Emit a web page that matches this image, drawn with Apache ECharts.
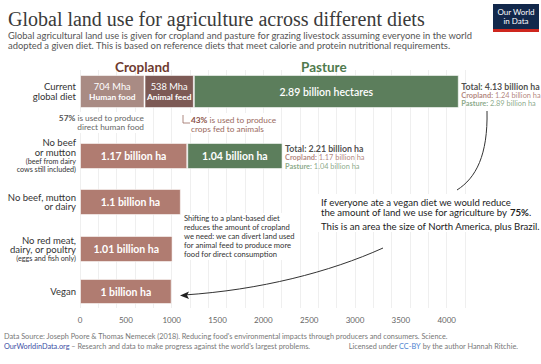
<!DOCTYPE html>
<html><head><meta charset="utf-8">
<script src="https://cdn.jsdelivr.net/npm/echarts@6/dist/echarts.min.js"></script>
<style>html,body{margin:0;padding:0;background:#fff}#c{width:541px;height:364px}</style>
</head><body><div id="c"></div>
<script>
// ---- data ----
const diets = ['Current\nglobal diet', 'No beef\nor mutton', 'No beef, mutton\nor dairy', 'No red meat,\ndairy, or poultry', 'Vegan'];
const dietNotes = ['', '(beef from dairy\ncows still included)', '', '(eggs and fish only)', ''];
const currentCropSplitNames = ['Human food', 'Animal feed'];
const currentCropSplit = [704, 538];              // Mha, current diet cropland split
const cropland = [1242, 1170, 1100, 1010, 1000];  // Mha
const pasture = [2890, 1040, 0, 0, 0];            // Mha
const xMax = 4200;
const tickStep = 500;
const gridStep = 200;

// ---- layout ----
const rowTops = [75, 143, 189, 236, 279];
const rowHeights = [33, 26, 26, 26, 25];
const L = 80, R = 76;
const cropColors = ['#a98b84', '#7d5a55'];
const cropColor = '#b07c71';
const pastureColor = '#5c7e5c';
const font = 'Lato, "Open Sans", sans-serif';
const edge = {borderColor: 'rgba(255,255,255,0.55)', borderWidth: 1};

const bil = v => (v / 1000) + ' billion ha';
const fix2 = v => (v / 1000).toFixed(2);

const grids = [{left: L, right: R, top: 70, bottom: 56}];
const xAxes = [
  {gridIndex: 0, type: 'value', min: 0, max: xMax, interval: gridStep, position: 'bottom',
   axisLabel: {show: false}, axisLine: {show: false}, axisTick: {show: false},
   splitLine: {show: true, lineStyle: {color: '#efefef', width: 1}}},
  {gridIndex: 0, type: 'value', min: 0, max: xMax, interval: tickStep, position: 'bottom',
   axisLine: {show: false}, axisTick: {show: false}, splitLine: {show: false},
   axisLabel: {show: true, color: '#666', fontSize: 8, fontFamily: font, margin: 8,
     formatter: v => (v % tickStep === 0 ? String(v) : '')}}
];
const yAxes = [{gridIndex: 0, type: 'value', show: false}];
const series = [];

diets.forEach((d, i) => {
  const g = i + 1;
  grids.push({left: L, right: R, top: rowTops[i], height: rowHeights[i]});
  xAxes.push({gridIndex: g, type: 'value', min: 0, max: xMax, show: false});
  yAxes.push({gridIndex: g, type: 'category', data: [d],
    axisLine: {show: false}, axisTick: {show: false}, splitLine: {show: false},
    axisLabel: {margin: 4, align: 'right',
      formatter: v => v.split('\n').map(l => `{m|${l}}`).join('\n') +
        (dietNotes[i] ? '\n' + dietNotes[i].split('\n').map(l => `{s|${l}}`).join('\n') : ''),
      rich: {m: {fontSize: 9.5, lineHeight: 9.5, color: '#333', fontFamily: font, align: 'right'},
             s: {fontSize: 7.2, lineHeight: 8.3, color: '#333', fontFamily: font, align: 'right'}}}});
  const xi = xAxes.length - 1, yi = yAxes.length - 1;
  const common = {type: 'bar', xAxisIndex: xi, yAxisIndex: yi, stack: 's' + i, barWidth: '100%'};
  if (i === 0) {
    currentCropSplit.forEach((v, k) => {
      series.push(Object.assign({}, common, {name: currentCropSplitNames[k], data: [v],
        itemStyle: Object.assign({color: cropColors[k]}, edge),
        label: {show: true, position: 'inside', formatter: `{a|${v} Mha}\n{b|${currentCropSplitNames[k]}}`,
          rich: {a: {fontSize: 9.3, color: '#fff', fontFamily: font, lineHeight: 10.5},
                 b: {fontSize: 8.4, color: '#fff', fontFamily: font, fontWeight: 'bold', lineHeight: 10.5}}}}));
    });
    series.push(Object.assign({}, common, {name: 'Pasture', data: [pasture[0]],
      itemStyle: Object.assign({color: pastureColor}, edge),
      label: {show: true, position: 'inside', formatter: (pasture[0] / 1000) + ' billion hectares',
        color: '#fff', fontSize: 10.5, fontFamily: font, fontWeight: 600}}));
  } else {
    series.push(Object.assign({}, common, {name: 'Cropland', data: [cropland[i]],
      itemStyle: Object.assign({color: cropColor}, edge),
      label: {show: true, position: 'inside', formatter: bil(cropland[i]),
        color: '#fff', fontSize: 10.5, fontFamily: font, fontWeight: 'bold'}}));
    if (pasture[i] > 0) {
      series.push(Object.assign({}, common, {name: 'Pasture', data: [pasture[i]],
        itemStyle: Object.assign({color: pastureColor}, edge),
        label: {show: true, position: 'inside', formatter: bil(pasture[i]),
          color: '#fff', fontSize: 10.5, fontFamily: font, fontWeight: 'bold'}}));
    }
  }
  if (pasture[i] > 0) {
    const tot = cropland[i] + pasture[i];
    series.push({type: 'scatter', xAxisIndex: xi, yAxisIndex: yi, symbolSize: 1,
      itemStyle: {color: 'rgba(0,0,0,0)'}, data: [[tot, d]], silent: true,
      label: {show: true, position: 'right', distance: 2, offset: [0, i === 0 ? 3 : 1], align: 'left',
        formatter: `{t|Total: ${fix2(tot)} billion ha}\n{cb|Cropland:}{cv| ${fix2(cropland[i])} billion ha}\n{pb|Pasture:}{pv| ${fix2(pasture[i])} billion ha}`,
        rich: {t: {fontSize: 8.8, fontWeight: 'bold', color: '#222', fontFamily: font, lineHeight: 10},
               cb: {fontSize: 7.4, fontWeight: 'bold', color: '#a0675c', fontFamily: font, lineHeight: 8.5},
               cv: {fontSize: 7.4, color: '#a0675c', fontFamily: font, lineHeight: 8.5},
               pb: {fontSize: 7.4, fontWeight: 'bold', color: '#6e936c', fontFamily: font, lineHeight: 8.5},
               pv: {fontSize: 7.4, color: '#6e936c', fontFamily: font, lineHeight: 8.5}}}});
  }
});

const Z = 60;
const option = {
  animation: false,
  backgroundColor: '#fff',
  title: [
    {text: 'Global land use for agriculture across different diets', left: 3, top: 4,
     textStyle: {fontFamily: '"Liberation Serif", serif', fontSize: 20, fontWeight: 'normal', color: '#3a3a3a'},
     subtext: 'Global agricultural land use is given for cropland and pasture for grazing livestock assuming everyone in the world\nadopted a given diet. This is based on reference diets that meet calorie and protein nutritional requirements.',
     itemGap: 1,
     subtextStyle: {fontFamily: font, fontSize: 9.4, color: '#555', lineHeight: 10.5}},
    {text: 'Cropland', left: 110, top: 55, textStyle: {fontFamily: font, fontSize: 13.5, fontWeight: 'bold', color: '#6e3a2f'}},
    {text: 'Pasture', left: 296, top: 55, textStyle: {fontFamily: font, fontSize: 13.5, fontWeight: 'bold', color: '#4f7a4d'}}
  ],
  grid: grids, xAxis: xAxes, yAxis: yAxes, series: series,
  graphic: {elements: [
    {type: 'rect', z: Z, shape: {x: 493, y: 4, width: 46, height: 28}, style: {fill: '#12284b'}},
    {type: 'rect', z: Z, shape: {x: 493, y: 29, width: 46, height: 3}, style: {fill: '#ce261e'}},
    {type: 'text', z: Z + 1, x: 516, y: 16, style: {text: 'Our World\nin Data', fill: '#fff', font: '8px Lato, sans-serif', align: 'center', verticalAlign: 'middle', lineHeight: 9}},
    {type: 'rect', z: Z, shape: {x: 62, y: 112, width: 84, height: 21}, style: {fill: '#fff'}},
    {type: 'text', z: Z + 1, x: 144, y: 113, style: {text: '{b|57%} is used to produce\ndirect human food', align: 'right', fill: '#666', font: '8.3px Lato, sans-serif', lineHeight: 9,
      rich: {b: {fill: '#555', font: 'bold 8.3px Lato, sans-serif'}}}},
    {type: 'rect', z: Z, shape: {x: 181, y: 113, width: 92, height: 20}, style: {fill: '#fff'}},
    {type: 'polyline', z: Z + 1, shape: {points: [[183, 115], [183, 123], [190, 123]]}, style: {stroke: '#9b6a60', lineWidth: 0.8, fill: null}},
    {type: 'text', z: Z + 1, x: 191, y: 115, style: {text: '{b|43%} is used to produce\ncrops fed to animals', fill: '#9b6a60', font: '8.3px Lato, sans-serif', lineHeight: 9,
      rich: {b: {fill: '#8b5046', font: 'bold 8.3px Lato, sans-serif'}}}},
    {type: 'rect', z: Z, shape: {x: 182, y: 213, width: 114, height: 47}, style: {fill: '#fff'}},
    {type: 'text', z: Z + 1, x: 184, y: 214, style: {text: 'Shifting to a plant-based diet\nreduces the amount of cropland\nwe need: we can divert land used\nfor animal feed to produce more\nfood for direct consumption', fill: '#333', font: '7.6px Lato, sans-serif', lineHeight: 8.8}},
    {type: 'rect', z: Z, shape: {x: 317, y: 194, width: 200, height: 38}, style: {fill: '#fff'}},
    {type: 'text', z: Z + 1, x: 321, y: 198, style: {text: 'If everyone ate a vegan diet we would reduce\nthe amount of land we use for agriculture by {b|75%}.', fill: '#222', font: '9.6px Lato, sans-serif', lineHeight: 9.5,
      rich: {b: {font: 'bold 9.6px Lato, sans-serif', fill: '#222'}}}},
    {type: 'text', z: Z + 1, x: 321, y: 221, style: {text: 'This is an area the size of North America, plus Brazil.', fill: '#222', font: '9.6px Lato, sans-serif'}},
    {type: 'bezierCurve', z: Z + 1, shape: {x1: 487, y1: 111, cpx1: 488, cpy1: 155, cpx2: 476, cpy2: 178, x2: 457, y2: 190}, style: {stroke: '#333', lineWidth: 1, fill: null}},
    {type: 'bezierCurve', z: Z + 1, shape: {x1: 383, y1: 248, cpx1: 330, cpy1: 272, cpx2: 260, cpy2: 290, x2: 184, y2: 295}, style: {stroke: '#333', lineWidth: 1, fill: null}},
    {type: 'polygon', z: Z + 1, shape: {points: [[180, 295.5], [189, 291.5], [187, 295.3], [189, 299]]}, style: {fill: '#222'}},
    {type: 'text', z: Z + 1, x: 4, y: 333, style: {text: "Data Source: Joseph Poore & Thomas Nemecek (2018). Reducing food's environmental impacts through producers and consumers. Science.", fill: '#777', font: '7.3px Lato, sans-serif'}},
    {type: 'text', z: Z + 1, x: 4, y: 343, style: {text: "{l|OurWorldinData.org} – Research and data to make progress against the world's largest problems.", fill: '#777', font: '7.3px Lato, sans-serif',
      rich: {l: {fill: '#3b4ea3', font: '7.3px Lato, sans-serif'}}}},
    {type: 'text', z: Z + 1, x: 518, y: 343, style: {text: 'Licensed under {l|CC-BY} by the author Hannah Ritchie.', align: 'right', fill: '#777', font: '7.3px Lato, sans-serif',
      rich: {l: {fill: '#4a7fd0', font: '7.3px Lato, sans-serif'}}}}
  ]}
};
const chart = echarts.init(document.getElementById('c'), null, {renderer: 'svg'});
chart.setOption(option);
</script></body></html>
